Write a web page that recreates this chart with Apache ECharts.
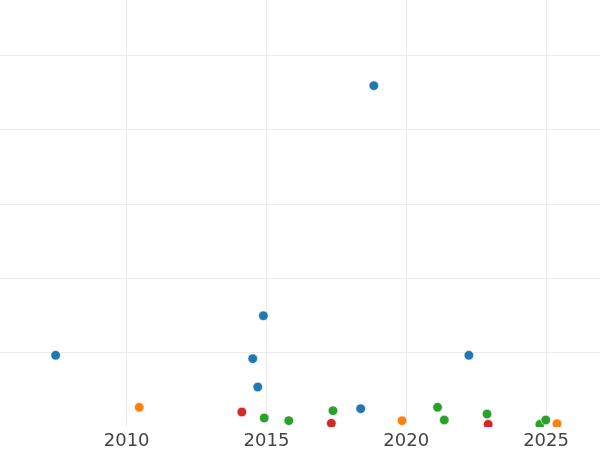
<!DOCTYPE html>
<html>
<head>
<meta charset="utf-8">
<script src="https://cdn.jsdelivr.net/npm/echarts@6/dist/echarts.min.js"></script>
<style>
  html, body { margin: 0; padding: 0; background: #fff; }
  #chart { width: 600px; height: 450px; }
</style>
</head>
<body>
<div id="chart"></div>
<script>
// [year, value] per group
const blueGroup = [
  [2007.46, 0.965], [2018.84, 4.592], [2014.89, 1.497], [2014.51, 0.919],
  [2014.69, 0.538], [2022.24, 0.965], [2018.37, 0.246]
];
const orangeGroup = [
  [2010.45, 0.265], [2019.85, 0.085], [2025.39, 0.044]
];
const greenGroup = [
  [2014.92, 0.121], [2015.80, 0.085], [2017.38, 0.219], [2021.12, 0.265],
  [2021.36, 0.094], [2022.89, 0.175], [2024.78, 0.036], [2024.99, 0.094]
];
const redGroup = [
  [2014.12, 0.202], [2017.32, 0.050], [2022.93, 0.036]
];
const groupColors = ['#1f77b4', '#ff7f0e', '#2ca02c', '#d62728'];

// visible window of the axes
const xRange = [2005.47, 2026.93];
const yRange = [0, 5.745];

const gridColor = '#ebebeb';
const textColor = '#444';

const chart = echarts.init(document.getElementById('chart'));

// custom series so points are clipped at the plot edge like the original
const dot = (params, api) => {
  const p = api.coord([api.value(0), api.value(1)]);
  return {
    type: 'circle',
    shape: { cx: p[0], cy: p[1], r: 4.8 },
    style: { fill: api.visual('color'), stroke: '#fff', lineWidth: 0.6 }
  };
};

const makeSeries = (name, data, color) => ({
  name,
  type: 'custom',
  renderItem: dot,
  clip: true,
  data,
  itemStyle: { color },
  encode: { x: 0, y: 1 }
});

chart.setOption({
  animation: false,
  backgroundColor: '#fff',
  grid: { left: 0, right: 0, top: 0, bottom: 23, containLabel: false },
  xAxis: {
    type: 'value',
    min: xRange[0],
    max: xRange[1],
    axisLine: { show: false },
    axisTick: { show: false },
    axisLabel: {
      color: textColor,
      fontSize: 18,
      fontFamily: 'DejaVu Sans',
      margin: 5,
      showMinLabel: false,
      showMaxLabel: false,
      formatter: v => String(v)
    },
    splitLine: {
      show: true,
      showMinLine: false,
      showMaxLine: false,
      lineStyle: { color: gridColor, width: 1 }
    }
  },
  yAxis: {
    type: 'value',
    min: yRange[0],
    max: yRange[1],
    interval: 1,
    axisLine: { show: false },
    axisTick: { show: false },
    axisLabel: { show: false },
    splitLine: {
      show: true,
      showMinLine: false,
      showMaxLine: false,
      lineStyle: { color: gridColor, width: 1 }
    }
  },
  series: [
    makeSeries('blue', blueGroup, groupColors[0]),
    makeSeries('orange', orangeGroup, groupColors[1]),
    makeSeries('green', greenGroup, groupColors[2]),
    makeSeries('red', redGroup, groupColors[3])
  ]
});
</script>
</body>
</html>
